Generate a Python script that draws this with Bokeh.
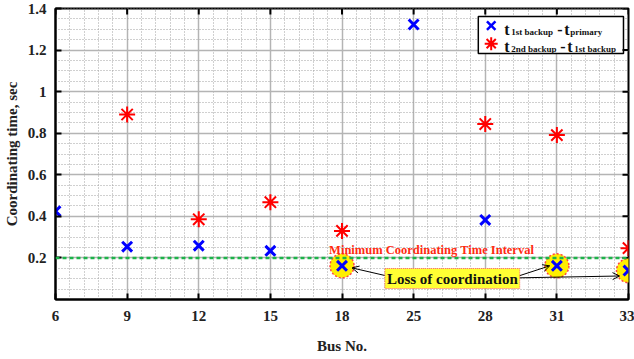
import math
from bokeh.plotting import figure
from bokeh.models import (FixedTicker, Span, BoxAnnotation, Label,
                          Arrow, OpenHead, Range1d, ColumnDataSource)
from bokeh.embed import file_html
from bokeh.resources import INLINE

nan = float("nan")

# ---------------- data ----------------
buses = ["6", "9", "12", "15", "18", "25", "28", "31", "33"]
t_1st_minus_primary = [0.425, 0.254, 0.259, 0.234, 0.162, 1.323, 0.383, 0.162, 0.139]
t_2nd_minus_1st = [nan, 0.890, 0.386, 0.468, 0.330, nan, 0.844, 0.791, 0.247]
loss_buses = ["18", "31", "33"]
min_cti = 0.2
y_ticks = [0.2, 0.4, 0.6, 0.8, 1.0, 1.2, 1.4]
y_tick_labels = ["0.2", "0.4", "0.6", "0.8", "1", "1.2", "1.4"]
y_min, y_max = 0.0, 1.4

FONT = "Liberation Serif"

xpos = list(range(len(buses)))
x_max = len(buses) - 1
src = ColumnDataSource(dict(x=xpos, b1=t_1st_minus_primary, b2=t_2nd_minus_1st))
loss_idx = [buses.index(b) for b in loss_buses]
loss_src = ColumnDataSource(dict(x=loss_idx, y=[t_1st_minus_primary[i] for i in loss_idx]))

p = figure(width=634, height=359, x_range=Range1d(0, x_max), y_range=Range1d(y_min, y_max),
           output_backend="svg", toolbar_location=None,
           min_border_left=52, min_border_right=6, min_border_top=8, min_border_bottom=60)
p.background_fill_color = "white"
p.border_fill_color = "white"
p.outline_line_color = "black"
p.outline_line_width = 2

x_ticker = FixedTicker(ticks=xpos, minor_ticks=[i * 0.2 for i in range(5 * x_max + 1)])
y_ticker = FixedTicker(ticks=y_ticks, minor_ticks=[k * 0.05 for k in range(29)])

p.xaxis.ticker = x_ticker
p.yaxis.ticker = y_ticker
p.xaxis.major_label_overrides = {i: b for i, b in enumerate(buses)}
p.yaxis.major_label_overrides = {t: l for t, l in zip(y_ticks, y_tick_labels)}

for ax in (p.xaxis[0], p.yaxis[0]):
    ax.axis_line_width = 2
    ax.axis_line_color = "black"
    ax.major_tick_in = 6
    ax.major_tick_out = 0
    ax.major_tick_line_width = 2
    ax.minor_tick_line_color = None
    ax.major_label_text_font = FONT
    ax.major_label_text_font_style = "bold"
    ax.major_label_text_font_size = "15px"
    ax.major_label_text_color = "#222222"
    ax.axis_label_text_font = FONT
    ax.axis_label_text_font_style = "bold"
    ax.axis_label_text_font_size = "15px"
    ax.axis_label_text_color = "#222222"

p.xaxis.axis_label = "Bus No."
p.yaxis.axis_label = "Coordinating time, sec"
p.xaxis.major_label_standoff = 7
p.xaxis.axis_label_standoff = 14
p.yaxis.major_label_standoff = 5
p.yaxis.axis_label_standoff = 5

# grids
for g in (p.xgrid[0], p.ygrid[0]):
    g.grid_line_color = "#b4b4b4"
    g.grid_line_width = 1.5
    g.minor_grid_line_color = "#a0a0a0"
    g.minor_grid_line_dash = "1 2"
    g.minor_grid_line_width = 1
p.xgrid.ticker = x_ticker
p.ygrid.ticker = y_ticker

# mirrored inward ticks on the top and right edges of the box
p.ray(x=xpos, y=[y_max] * len(xpos), length=6, length_units="screen",
      angle=-math.pi / 2, line_color="black", line_width=2)
p.ray(x=[x_max] * len(y_ticks), y=y_ticks, length=6, length_units="screen",
      angle=math.pi, line_color="black", line_width=2)

# minimum CTI line
p.add_layout(Span(location=min_cti, dimension="width", line_color="#1db34a",
                  line_dash="4 3", line_width=2.5))

# loss-of-coordination highlight circles
p.scatter("x", "y", source=loss_src, marker="circle", size=24, fill_color="#ffee00",
          line_color="#ff4444", line_dash="2 2", line_width=1.5)

# data series
p.scatter("x", "b1", source=src, marker="x", size=14, line_color="#0000ff", line_width=3)
p.scatter("x", "b2", source=src, marker="asterisk", size=16, line_color="#ff0000", line_width=2)

# annotations
p.add_layout(Label(x=3.82, y=0.236, text="Minimum  Coordinating Time Interval",
                   text_font=FONT, text_font_style="bold", text_font_size="12.5px",
                   text_color="#ff2a10", text_baseline="alphabetic"))

arrows = [(4.68, 0.109, 4.14, 0.152), (6.43, 0.109, 6.90, 0.162), (6.43, 0.104, 7.875, 0.113)]
for xs, ys, xe, ye in arrows:
    p.add_layout(Arrow(end=OpenHead(size=7, line_width=1, line_color="black"),
                       x_start=xs, y_start=ys, x_end=xe, y_end=ye,
                       line_width=1, line_color="black"))

p.add_layout(Label(x=5.54, y=0.101, text="Loss of coordination", text_align="center",
                   text_baseline="middle", text_font=FONT, text_font_style="bold",
                   text_font_size="15px", text_color="#111111",
                   background_fill_color="#ffff33", border_line_color="#ff6666",
                   border_line_dash="1 1", border_line_width=1, padding=2))

# legend (built by hand to allow subscripts)
LX, LY = 5.903, 1.361
p.add_layout(BoxAnnotation(left=LX, right=7.93, top=LY, bottom=1.183, level="underlay",
                           fill_color="white", fill_alpha=1, line_color="black",
                           line_width=1.5, line_alpha=1))
leg_src = ColumnDataSource(dict(x=[6.083], y=[1.318]))
leg_src2 = ColumnDataSource(dict(x=[6.083], y=[1.231]))
p.scatter("x", "y", source=leg_src, marker="x", size=12, line_color="#0000ff", line_width=2.5)
p.scatter("x", "y", source=leg_src2, marker="asterisk", size=13, line_color="#ff0000", line_width=2)

pieces = [
    ("t", 26, 13, 16), ("1st backup", 33, 15, 9), ("-", 79, 13, 16), ("t", 86, 13, 16),
    ("primary", 92, 15, 9),
    ("t", 26, 30, 16), ("2nd backup", 33, 32, 9), ("-", 82, 30, 16), ("t", 89, 30, 16),
    ("1st backup", 96, 32, 9),
]
for txt, dx, dy, fs in pieces:
    p.add_layout(Label(x=LX, y=LY, x_offset=dx, y_offset=-dy, text=txt, text_font=FONT,
                       text_font_style="bold", text_font_size=f"{fs}px", text_color="#111111",
                       text_baseline="alphabetic"))

open("out.html", "w").write(file_html(p, INLINE))
